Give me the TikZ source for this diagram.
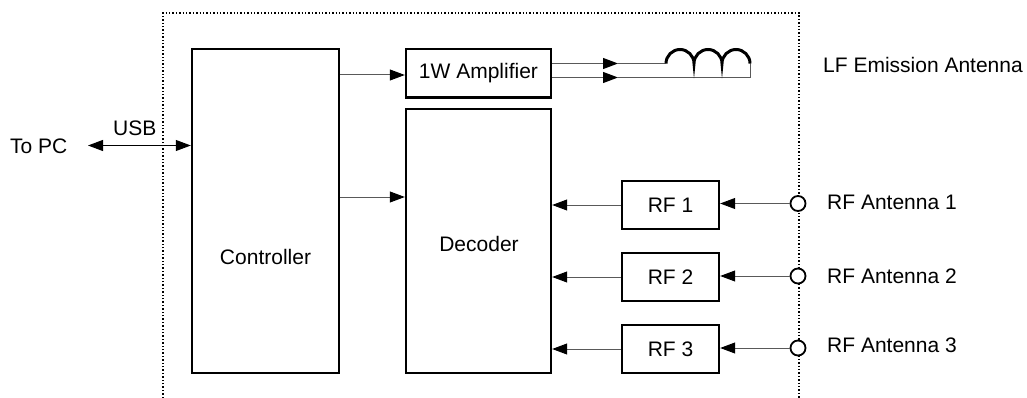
\documentclass[tikz,border=0pt]{standalone}
\usepackage{fontspec}
\setmainfont{Liberation Sans}
\usetikzlibrary{arrows.meta}
\tikzset{
  txt/.style={font=\fontsize{21}{25}\selectfont},
  blockbox/.style={txt,draw=black,line width=2.4pt,inner sep=0pt},
  lbl/.style={txt,inner sep=0pt,anchor=west},
  port/.style={circle,draw=black,line width=1.8pt,fill=white,minimum size=15pt,inner sep=0pt},
  wire/.style={draw=black!65,line width=1pt},
  tip/.style={-{Triangle[length=15pt,width=11pt,color=black]}},
  twotip/.style={{Triangle[length=15pt,width=11pt,color=black]}-{Triangle[length=15pt,width=11pt,color=black]}},
  frame/.style={draw=black,line width=1.4pt,dash pattern=on 1.4pt off 2pt}
}
\begin{document}
\begin{tikzpicture}[x=1pt,y=-1pt]
\useasboundingbox (0,0) rectangle (1027,398);
\coordinate (fa) at (163,398);
\coordinate (fb) at (163,13);
\coordinate (fc) at (799,13);
\coordinate (fd) at (799,398);
\draw[frame] (fa) -- (fb) -- (fc) -- (fd);

\node[blockbox,minimum width=147pt,minimum height=324pt] (ctrl) at (265.5,211) {};
\node[txt,inner sep=0pt] (ctrlt) at (265.5,256.5) {Controller};
\node[blockbox,minimum width=145pt,minimum height=48.5pt] (amp) at (478.5,73.2) {1W Amplifier};
\node[blockbox,minimum width=145pt,minimum height=264pt] (dec) at (478.5,241) {};
\node[txt,inner sep=0pt] (dect) at (479,244) {Decoder};
\node[blockbox,minimum width=97pt,minimum height=48pt] (rf1) at (670.5,205) {RF 1};
\node[blockbox,minimum width=97pt,minimum height=48pt] (rf2) at (670.5,277) {RF 2};
\node[blockbox,minimum width=97pt,minimum height=48pt] (rf3) at (670.5,349) {RF 3};
\node[port] (p1) at (798,203.5) {};
\node[port] (p2) at (798,276) {};
\node[port] (p3) at (798,348) {};
\node[lbl] (l0) at (823,65) {LF Emission Antenna};
\node[lbl] (l1) at (827,202) {RF Antenna 1};
\node[lbl] (l2) at (827,276) {RF Antenna 2};
\node[lbl] (l3) at (827,345) {RF Antenna 3};
\node[lbl] (pc) at (10,146) {To PC};
\node[lbl] (usb) at (113,128) {USB};

\coordinate (pcend) at (88,145.5);
\draw[wire,draw=black,twotip] (pcend) -- (ctrl.west |- pcend);

\coordinate (c1) at (ctrl.east |- 0,75);
\draw[wire,tip] (c1) -- (amp.west |- c1);
\coordinate (c2) at (ctrl.east |- 0,197);
\draw[wire,tip] (c2) -- (dec.west |- c2);

\draw[wire,tip] (rf1.west) -- (dec.east |- rf1.west);
\draw[wire,tip] (rf2.west) -- (dec.east |- rf2.west);
\draw[wire,tip] (rf3.west) -- (dec.east |- rf3.west);
\draw[wire,tip] (p1.west) -- (rf1.east |- p1.west);
\draw[wire,tip] (p2.west) -- (rf2.east |- p2.west);
\draw[wire,tip] (p3.west) -- (rf3.east |- p3.west);

% antenna coil
\coordinate (a1) at (amp.east |- 0,63.5);
\coordinate (a2) at (amp.east |- 0,77.5);
\coordinate (a1m) at (618,63.5);
\coordinate (a2m) at (618,77.5);
\coordinate (k0) at (666,63.5);
\coordinate (k1) at (750,63.5);
\coordinate (k2) at (750,77.5);
\draw[wire,tip] (a1) -- (a1m);
\draw[wire,tip] (a2) -- (a2m);
\draw[wire] (a1m) -- (k0);
\draw[wire] (a2m) -- (k2) -- (k1);
\draw[black,line width=3pt]
  (k0) arc[start angle=180,end angle=0,radius=14pt]
  arc[start angle=180,end angle=0,radius=14pt]
  arc[start angle=180,end angle=0,radius=14pt];
\end{tikzpicture}
\end{document}
